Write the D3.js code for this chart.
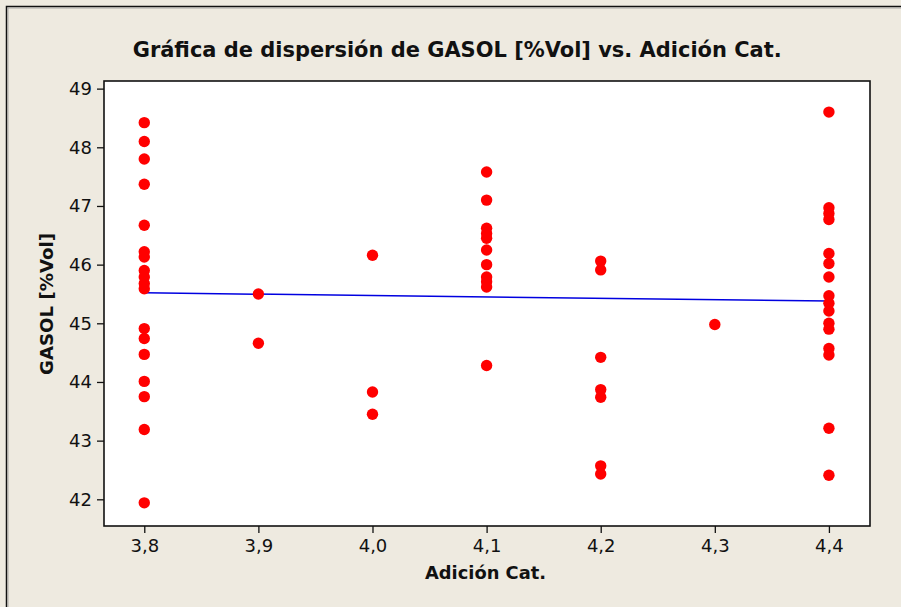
<!DOCTYPE html>
<html><head><meta charset="utf-8">
<script src="https://cdn.jsdelivr.net/npm/d3@7"></script>
<style>
html,body{margin:0;padding:0;background:#EEEAE0;}
svg{display:block;}
</style></head>
<body>
<svg id="chart" width="901" height="607"></svg>
<script>
// ---- data ----
const title = "Gráfica de dispersión de GASOL [%Vol] vs. Adición Cat.";
const xTitle = "Adición Cat.";
const yTitle = "GASOL [%Vol]";
const xTicks = [3.8, 3.9, 4.0, 4.1, 4.2, 4.3, 4.4];
const yTicks = [42, 43, 44, 45, 46, 47, 48, 49];

const x38 = [48.42, 48.10, 47.80, 47.37, 46.67, 46.22, 46.13, 45.90, 45.79, 45.68, 45.59, 44.91, 44.74, 44.47, 44.01, 43.75, 43.19, 41.94];
const x39 = [45.50, 44.66];
const x40 = [46.16, 43.83, 43.45];
const x41 = [47.58, 47.10, 46.62, 46.53, 46.45, 46.25, 46.00, 45.79, 45.71, 45.62, 44.28];
const x42 = [46.06, 45.91, 44.42, 43.87, 43.74, 42.57, 42.43];
const x43 = [44.98];
const x44 = [48.60, 46.97, 46.87, 46.77, 46.19, 46.02, 45.79, 45.47, 45.34, 45.21, 45.00, 44.90, 44.57, 44.46, 43.21, 42.41];

const groups = [[3.8, x38], [3.9, x39], [4.0, x40], [4.1, x41], [4.2, x42], [4.3, x43], [4.4, x44]];
const fitX = [3.8, 4.4];
const fitY = [45.52, 45.38];

// ---- drawing ----
const svg = d3.select("#chart");
const L = 104, R = 870, T = 81, B = 526;

const x = d3.scaleLinear().domain([3.7647, 4.436]).range([L, R]);
const y = d3.scaleLinear().domain([41.545, 49.13]).range([B, T]);

// background + outer frame
svg.append("rect").attr("x", 0).attr("y", 0).attr("width", 901).attr("height", 607).attr("fill", "#EEEAE0");
svg.append("path").attr("d", "M6.5,607 V6.5 H901").attr("fill", "none").attr("stroke", "#111").attr("stroke-width", 1.5);
svg.append("path").attr("d", "M8,607 V8 H901").attr("fill", "none").attr("stroke", "#9a9a9a").attr("stroke-width", 0.8);

// plot area
svg.append("rect").attr("x", L).attr("y", T).attr("width", R - L).attr("height", B - T)
  .attr("fill", "#fff").attr("stroke", "#111").attr("stroke-width", 1.6);

const fmt = d => d3.format(".1f")(d).replace(".", ",");

const xAxis = svg.append("g").attr("transform", `translate(0,${B})`)
  .call(d3.axisBottom(x).tickValues(xTicks).tickFormat(fmt).tickSize(7).tickPadding(6));
const yAxis = svg.append("g").attr("transform", `translate(${L},0)`)
  .call(d3.axisLeft(y).tickValues(yTicks).tickFormat(d3.format("d")).tickSize(7).tickPadding(5));
[xAxis, yAxis].forEach(a => {
  a.select(".domain").remove();
  a.selectAll("line").attr("stroke", "#111").attr("stroke-width", 1.3);
  a.selectAll("text").attr("fill", "#111").style("font-family", "DejaVu Sans, Verdana, sans-serif").style("font-size", "18px");
});

// regression line
svg.append("line")
  .attr("x1", x(fitX[0])).attr("y1", y(fitY[0]))
  .attr("x2", x(fitX[1])).attr("y2", y(fitY[1]))
  .attr("stroke", "#0000E0").attr("stroke-width", 1.5);

// points
const pts = [];
groups.forEach(([gx, vals]) => vals.forEach(v => pts.push([gx, v])));
svg.append("g").selectAll("circle").data(pts).join("circle")
  .attr("cx", d => x(d[0])).attr("cy", d => y(d[1])).attr("r", 5.7)
  .attr("fill", "#FF0000");

// titles
svg.append("text").attr("x", 132.7).attr("y", 57.3)
  .attr("textLength", 649).attr("lengthAdjust", "spacingAndGlyphs")
  .style("font-family", "DejaVu Sans, Verdana, sans-serif").style("font-weight", "bold").style("font-size", "21px")
  .attr("fill", "#111").text(title);

svg.append("text").attr("x", 425).attr("y", 579)
  .attr("textLength", 121).attr("lengthAdjust", "spacingAndGlyphs")
  .style("font-family", "DejaVu Sans, Verdana, sans-serif").style("font-weight", "bold").style("font-size", "17px")
  .attr("fill", "#111").text(xTitle);

svg.append("text").attr("transform", "translate(53,375) rotate(-90)")
  .attr("textLength", 142).attr("lengthAdjust", "spacingAndGlyphs")
  .style("font-family", "DejaVu Sans, Verdana, sans-serif").style("font-weight", "bold").style("font-size", "17px")
  .attr("fill", "#111").text(yTitle);
</script>
</body></html>
